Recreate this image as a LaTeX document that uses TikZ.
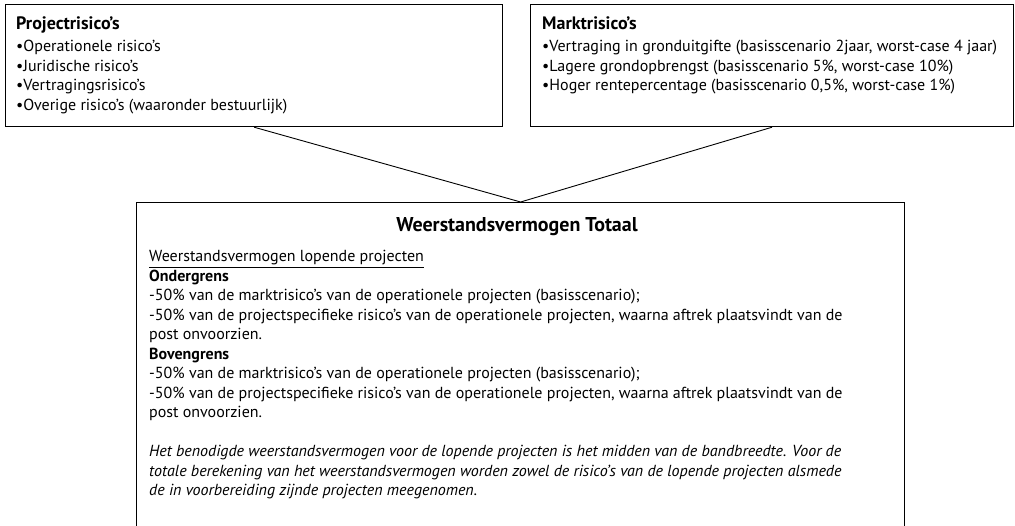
\documentclass[tikz,border=0pt]{standalone}
\usepackage{fontspec}
\setmainfont{PT Sans}

\tikzset{
  riskbox/.style={draw, line width=1.2pt, anchor=north west, inner sep=0pt},
  boxtitle/.style={anchor=base west, inner sep=0pt, font=\fontsize{18}{22}\selectfont\bfseries},
  boxlist/.style={anchor=base west, inner sep=0pt, font=\fontsize{16}{19.5}\selectfont},
  link/.style={line width=0.9pt}
}

\begin{document}
\begin{tikzpicture}[x=1pt,y=-1pt]
	\useasboundingbox (0,0) rectangle (1015,526);
	\clip (0,0) rectangle (1015,526);

	% risico blokken boven
	\node[riskbox, minimum width=497pt, minimum height=122pt] (proj) at (5,4) {};
	\node[riskbox, minimum width=483pt, minimum height=122pt] (markt) at (530,4) {};
	\node[boxtitle] (projtitle) at (16,30) {Projectrisico’s};
	\node[boxlist] (projlist) at (16,52) {\begin{minipage}[t]{470pt}
	  •Operationele risico’s\\
	  •Juridische risico’s\\
	  •Vertragingsrisico’s\\
	  •Overige risico’s (waaronder bestuurlijk)
	\end{minipage}};
	\node[boxtitle] (markttitle) at (542,30) {Marktrisico’s};
	\node[boxlist] (marktlist) at (542,52) {\begin{minipage}[t]{465pt}
	  •Vertraging in gronduitgifte (basisscenario 2jaar, worst-case 4 jaar)\\
	  •Lagere grondopbrengst (basisscenario 5\%, worst-case 10\%)\\
	  •Hoger rentepercentage (basisscenario 0,5\%, worst-case 1\%)
	\end{minipage}};

	% totaal blok
	\node[riskbox, minimum width=768pt, minimum height=400pt] (totaal) at (136,202) {};
	\node[boxtitle, anchor=base, font=\fontsize{20}{24}\selectfont\bfseries] (totaaltitle) at (517,232) {Weerstandsvermogen Totaal};
	\node[boxlist] (totaallist) at (149,262) {\begin{minipage}[t]{745pt}
	  \underline{Weerstandsvermogen lopende projecten}\\
	  \textbf{Ondergrens}\\
	  -50\% van de marktrisico’s van de operationele projecten (basisscenario);\\
	  -50\% van de projectspecifieke risico’s van de operationele projecten, waarna aftrek plaatsvindt van de\\
	  post onvoorzien.\\
	  \textbf{Bovengrens}\\
	  -50\% van de marktrisico’s van de operationele projecten (basisscenario);\\
	  -50\% van de projectspecifieke risico’s van de operationele projecten, waarna aftrek plaatsvindt van de\\
	  post onvoorzien.\\[19.5pt]
	  \itshape Het benodigde weerstandsvermogen voor de lopende projecten is het midden van de bandbreedte. Voor de\\
	  totale berekening van het weerstandsvermogen worden zowel de risico’s van de lopende projecten alsmede\\
	  de in voorbereiding zijnde projecten meegenomen.
	\end{minipage}};

	\draw[link] (proj.south) -- (totaal.north);
	\draw[link] (markt.south) -- (totaal.north);
\end{tikzpicture}
\end{document}
